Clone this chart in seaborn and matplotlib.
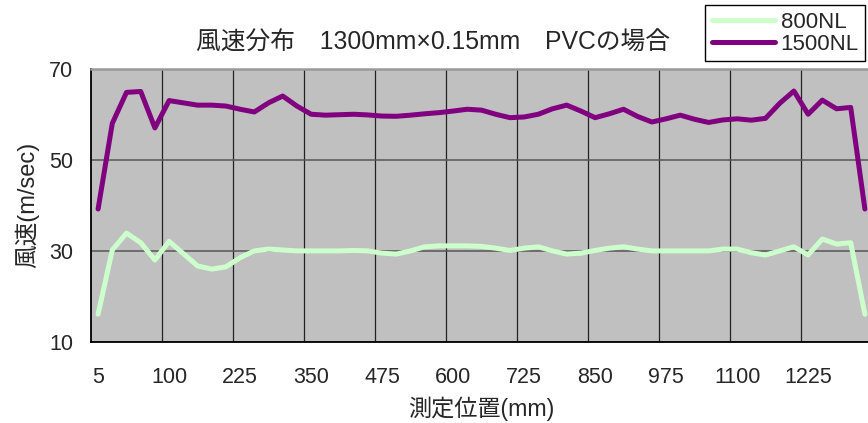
import numpy as np
import pandas as pd
import matplotlib
matplotlib.use('Agg')
import matplotlib.pyplot as plt
import seaborn as sns

# wind speed (m/sec) at each measuring point across the 1300mm film
speed_800 = [16.1, 30.2, 33.9, 31.8, 28.0, 32.1, 29.4, 26.7, 26.0, 26.5,
             28.5, 30.0, 30.4, 30.2, 30.0, 30.0, 30.0, 30.0, 30.1, 30.0,
             29.5, 29.3, 30.0, 30.9, 31.1, 31.1, 31.1, 31.0, 30.6, 30.1,
             30.6, 30.9, 30.0, 29.3, 29.5, 30.1, 30.6, 30.9, 30.4, 30.0,
             30.0, 30.0, 30.0, 30.0, 30.4, 30.4, 29.6, 29.1, 30.0, 30.9,
             29.1, 32.6, 31.5, 31.8, 16.1]
speed_1500 = [39.2, 58.0, 64.8, 65.0, 57.0, 63.0, 62.5, 62.0, 62.0, 61.8,
              61.1, 60.5, 62.5, 64.0, 61.8, 60.0, 59.8, 59.9, 60.0, 59.85,
              59.6, 59.55, 59.8, 60.1, 60.35, 60.7, 61.1, 60.9, 60.0, 59.25,
              59.4, 60.0, 61.2, 62.0, 60.7, 59.25, 60.1, 61.1, 59.5, 58.3,
              59.0, 59.8, 58.9, 58.2, 58.75, 59.0, 58.7, 59.1, 62.4, 65.1,
              60.0, 63.1, 61.2, 61.5, 39.2]
series_names = ['800NL', '1500NL']
line_colors = ['#CCFFCC', '#800080']
tick_labels = ['5', '100', '225', '350', '475', '600', '725', '850', '975', '1100', '1225']
y_ticks = [10, 30, 50, 70]

n = len(speed_800)
idx = np.arange(n)
df = pd.DataFrame({
    'point': np.concatenate([idx, idx]),
    'speed': speed_800 + speed_1500,
    'series': [series_names[0]] * n + [series_names[1]] * n,
})

sns.set_style('white')
plt.rcParams['font.family'] = ['Liberation Sans', 'Noto Sans CJK JP']

fig = plt.figure(figsize=(8.68, 4.23), dpi=100)
ax = fig.add_axes([91 / 868, 81 / 423, 781 / 868, 273.3 / 423])
ax.set_facecolor('#C0C0C0')

sns.lineplot(data=df, x='point', y='speed', hue='series',
             palette=dict(zip(series_names, line_colors)),
             linewidth=3.6, legend=False, sort=False, ax=ax)
for ln in ax.lines:
    ln.set_solid_capstyle('round')
    ln.set_solid_joinstyle('round')

ax.set_xlim(-0.5, n - 0.5)
ax.set_ylim(10, 70)

# labels every 5th point, gridlines between categories
ax.set_xticks(idx[::5][:len(tick_labels)])
ax.set_xticklabels(tick_labels)
ax.set_xticks(np.arange(4.5, n - 1, 5), minor=True)
ax.set_yticks(y_ticks)
ax.tick_params(axis='x', which='major', length=0, pad=18, labelsize=15.5)
ax.tick_params(axis='x', which='minor', direction='in', length=5, color='black')
ax.tick_params(axis='y', direction='in', length=5, pad=13, labelsize=15.5)

ax.grid(False)
ax.yaxis.grid(True, color='#555555', linewidth=1.1)
ax.xaxis.grid(True, which='minor', color='#222222', linewidth=0.9)
ax.set_axisbelow(True)

for side in ['left', 'bottom']:
    ax.spines[side].set_color('black')
    ax.spines[side].set_linewidth(1.3)
ax.spines['top'].set_color('#999999')
ax.spines['top'].set_linewidth(1.8)
ax.spines['right'].set_visible(False)

ax.set_xlabel('測定位置(mm)', fontsize=16.7, labelpad=6)
ax.set_ylabel('風速(m/sec)', fontsize=17, labelpad=7)

fig.text(0.499, 1 - 43 / 423, '風速分布\u30001300mm×0.15mm\u3000PVCの場合',
         ha='center', va='center', fontsize=17.8)

leg = fig.legend(handles=ax.lines[:2], labels=series_names,
                 loc='upper left', bbox_to_anchor=(705 / 868, 1 - 5 / 423),
                 borderaxespad=0, fontsize=16, frameon=True, fancybox=False,
                 handlelength=2.85, handletextpad=0.25, labelspacing=0.05,
                 borderpad=0.3)
leg.get_frame().set_edgecolor('black')
leg.get_frame().set_linewidth(1.0)
leg.get_frame().set_facecolor('white')
leg.get_frame().set_alpha(1)

plt.savefig('out.png', dpi=100)
plt.close()
